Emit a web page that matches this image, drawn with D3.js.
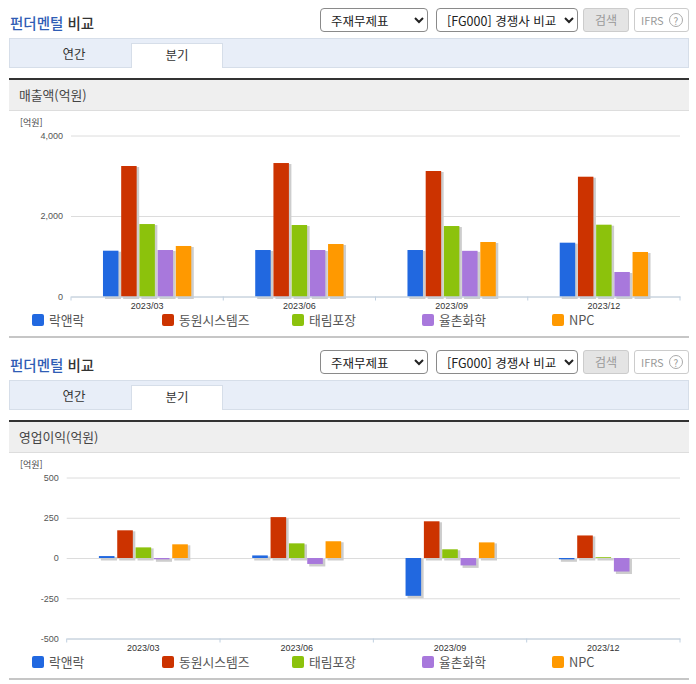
<!DOCTYPE html>
<html lang="ko">
<head>
<meta charset="utf-8">
<script src="https://cdn.jsdelivr.net/npm/d3@7"></script>
<style>
    html, body {margin: 0; padding: 0; background: #fff;}
    body {width: 696px; height: 684px; position: relative; overflow: hidden; font-family: "Noto Sans CJK KR", "Noto Sans", sans-serif;}
    .panel {position: absolute; left: 0; width: 696px; height: 342px;}
    .panel > * {position: absolute; box-sizing: border-box;}
    .title {left: 10px; top: 13px; font-size: 14.5px; line-height: 20px; font-weight: 500; color: #333;}
    .title b {color: #2f5db5; font-weight: 500;}
    select {height: 24px; top: 8px; font-size: 12.5px; font-family: inherit; color: #222; background: #fff; border: 1px solid #8a8a8a; border-radius: 4px; padding: 0 0 0 6px;}
    .btn {top: 8px; height: 24px; border: 1px solid #ccc; border-radius: 3px; font-size: 12px; line-height: 22px; text-align: center; color: #999;}
    .tabs {left: 9px; top: 38px; width: 680px; height: 30px; background: #e8eef8; border: 1px solid #d6dee9;}
    .tab {top: 43px; height: 25px; font-size: 12.5px; line-height: 22px; text-align: center; color: #333;}
    .tab.on {background: #fff; border: 1px solid #d6dee9; border-bottom: 0;}
    .head {left: 9px; top: 78px; width: 680px; height: 33px; background: #efefef; border-top: 2px solid #333; border-bottom: 1px solid #ddd; font-size: 12.8px; line-height: 30px; padding-left: 10px; color: #444;}
    .rule {left: 9px; top: 336px; width: 680px; height: 2px; background: #c6c6c6;}
    svg {left: 0; top: 110px;}
    .axis text {font-family: "Liberation Sans", Arial, sans-serif; font-size: 9px; fill: #555;}
    .axis--x text {fill: #333;}
    .axis path, .axis line {stroke: #c0d0e0;}
    .axis--y path {display: none;}
    .axis--y line {stroke: #dcdcdc;}
    .unit {font-size: 9px; fill: #444;}
    .legend text {font-size: 12.8px; fill: #555;}
</style>
</head>
<body>
<script>
    const quarters = ["2023/03", "2023/06", "2023/09", "2023/12"];
    const companies = ["락앤락", "동원시스템즈", "태림포장", "율촌화학", "NPC"];
    const colors = ["#2168e0", "#cc3300", "#8cc20c", "#a878dc", "#ff9900"];

    // one array per company, same order as quarters
    const salesLock = [1138, 1155, 1155, 1337];
    const salesDongwon = [3242, 3316, 3118, 2976];
    const salesTaelim = [1800, 1776, 1751, 1784];
    const salesYoulchon = [1155, 1155, 1135, 609];
    const salesNpc = [1255, 1304, 1354, 1106];

    const profitLock = [12, 16, -235, -8];
    const profitDongwon = [172, 254, 228, 140];
    const profitTaelim = [66, 91, 54, 5];
    const profitYoulchon = [-8, -37, -46, -84];
    const profitNpc = [85, 104, 97, 0];

    const salesTicks = [0, 2000, 4000];
    const profitTicks = [-500, -250, 0, 250, 500];

    function makePanel(top, heading) {
        let panel = d3.select("body").append("div").attr("class", "panel").style("top", top + "px");

        panel.append("div").attr("class", "title").html("<b>펀더멘털</b> 비교");
        panel.append("select").style("left", "320px").style("width", "108px")
            .append("option").text("주재무제표");
        panel.append("select").style("left", "436px").style("width", "142px")
            .append("option").text("[FG000] 경쟁사 비교");
        panel.append("div").attr("class", "btn").style("left", "583px").style("width", "46px")
            .style("background", "#e4e4e4").text("검색");
        panel.append("div").attr("class", "btn").style("left", "634px").style("width", "55px")
            .style("font-size", "11px").style("text-align", "left").style("padding-left", "6px")
            .html('IFRS <span style="display:inline-block;width:14px;height:14px;line-height:13px;margin-left:2px;border:1px solid #aaa;border-radius:50%;text-align:center;font-size:10px;box-sizing:border-box">?</span>');

        panel.append("div").attr("class", "tabs");
        panel.append("div").attr("class", "tab").style("left", "28px").style("width", "92px").text("연간");
        panel.append("div").attr("class", "tab on").style("left", "131px").style("width", "92px").text("분기");
        panel.append("div").attr("class", "head").text(heading);
        panel.append("div").attr("class", "rule");
        return panel;
    }

    function makeChart(panel, series, yDomain, yTicks, margin) {
        let svg = panel.append("svg").attr("width", 696).attr("height", 226),
            width = 680 - margin.left,
            height = 161,
            g = svg.append("g").attr("transform", "translate(" + margin.left + "," + margin.top + ")");

        let x0 = d3.scaleBand().domain(quarters).range([0, width]);
        let x1 = d3.scaleBand().domain(companies)
            .range([x0.step() * 0.21, x0.step() * 0.79])
            .paddingInner(0.15);
        let y = d3.scaleLinear().domain(yDomain).range([height, 0]);

        svg.append("text").attr("class", "unit").attr("x", 20).attr("y", margin.top - 10).text("[억원]");

        g.append("g")
            .attr("class", "axis axis--y")
            .call(d3.axisLeft(y).tickValues(yTicks).tickSize(-width).tickPadding(8).tickFormat(function (d) {
                // plain hyphen for negatives, as on the source page
                return d3.format(",")(d).replace("−", "-");
            }));

        let group = g.selectAll(".quarter")
            .data(quarters)
            .enter().append("g")
            .attr("class", "quarter")
            .attr("transform", function (d) {
                return "translate(" + x0(d) + ",0)";
            });

        companies.forEach(function (name, s) {
            let bars = group.filter(function (d, i) {
                return series[s][i] !== 0;
            });
            let top = function (d) {
                return y(Math.max(0, series[s][quarters.indexOf(d)]));
            };
            let barHeight = function (d) {
                return Math.abs(y(series[s][quarters.indexOf(d)]) - y(0));
            };
            // drop shadow first, then the bar
            bars.append("rect")
                .attr("x", x1(name) + 2)
                .attr("y", function (d) {
                    return top(d) + 1;
                })
                .attr("width", x1.bandwidth() + 0.5)
                .attr("height", function (d) {
                    return barHeight(d) + 1.5;
                })
                .attr("fill", "#cdcdcd");
            bars.append("rect")
                .attr("x", x1(name))
                .attr("y", top)
                .attr("width", x1.bandwidth())
                .attr("height", barHeight)
                .attr("fill", colors[s]);
        });

        g.append("g")
            .attr("class", "axis axis--x")
            .attr("transform", "translate(0," + height + ")")
            .call(d3.axisBottom(x0).tickSize(0).tickPadding(6));

        // category boundary ticks
        g.select(".axis--x").selectAll(".edge")
            .data(d3.range(quarters.length + 1))
            .enter().append("line")
            .attr("class", "edge")
            .attr("x1", function (d) {
                return d * x0.step();
            })
            .attr("x2", function (d) {
                return d * x0.step();
            })
            .attr("y2", 4);

        let legend = svg.append("g").attr("class", "legend")
            .selectAll("g")
            .data(companies)
            .enter().append("g")
            .attr("transform", function (d, i) {
                return "translate(" + (32 + i * 130) + ",204)";
            });
        legend.append("rect")
            .attr("width", 12)
            .attr("height", 12)
            .attr("rx", 2)
            .attr("fill", function (d, i) {
                return colors[i];
            });
        legend.append("text")
            .attr("x", 17)
            .attr("y", 6)
            .attr("dy", "0.36em")
            .text(function (d) {
                return d;
            });
    }

    let salesPanel = makePanel(0, "매출액(억원)");
    makeChart(salesPanel,
        [salesLock, salesDongwon, salesTaelim, salesYoulchon, salesNpc],
        [0, 4000], salesTicks, {top: 25.5, left: 71});

    let profitPanel = makePanel(342, "영업이익(억원)");
    makeChart(profitPanel,
        [profitLock, profitDongwon, profitTaelim, profitYoulchon, profitNpc],
        [-500, 500], profitTicks, {top: 25.5, left: 66.7});
</script>
</body>
</html>
